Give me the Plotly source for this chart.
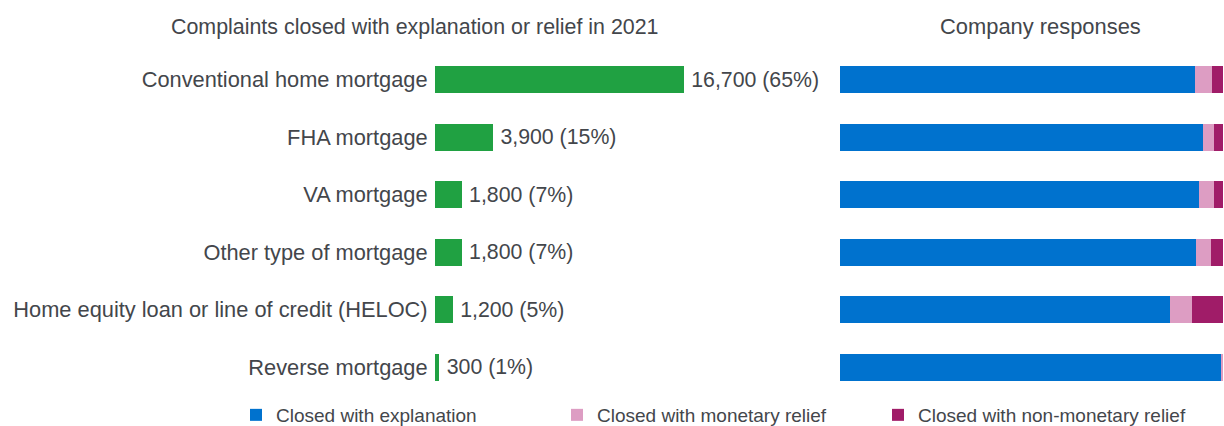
import plotly.graph_objects as go
from plotly.subplots import make_subplots

# ---- data ----
products = [
    "Conventional home mortgage",
    "FHA mortgage",
    "VA mortgage",
    "Other type of mortgage",
    "Home equity loan or line of credit (HELOC)",
    "Reverse mortgage",
]
complaints = [16700, 3900, 1800, 1800, 1200, 300]
share_pct = [65, 15, 7, 7, 5, 1]

# company responses, % of complaints for each product
explanation = [92.7, 94.8, 93.7, 93.0, 86.2, 99.4]
monetary = [4.4, 2.9, 3.9, 3.9, 5.7, 0.6]
non_monetary = [2.9, 2.3, 2.4, 3.1, 8.1, 0.0]

TEXT = "#43464b"
FONT = "Liberation Sans, Arial, sans-serif"
W, H = 1224, 426
TOP, BOTTOM = 51, 30
PLOT_H = H - TOP - BOTTOM

fig = make_subplots(rows=1, cols=2, horizontal_spacing=0.0)

# left panel: complaint counts
labels = [f"\u2009{c:,} ({p}%)" for c, p in zip(complaints, share_pct)]
fig.add_trace(
    go.Bar(
        y=products, x=complaints, orientation="h",
        marker=dict(color="#20a142", line=dict(width=0)),
        text=labels, textposition="outside", cliponaxis=False,
        textfont=dict(size=21.3, color=TEXT, family=FONT),
        showlegend=False, hoverinfo="skip",
    ),
    row=1, col=1,
)

# right panel: stacked company responses
for name, vals, col in [
    ("Closed with explanation", explanation, "#0072ce"),
    ("Closed with monetary relief", monetary, "#dd9dc3"),
    ("Closed with non-monetary relief", non_monetary, "#a01c68"),
]:
    fig.add_trace(
        go.Bar(
            y=products, x=vals, orientation="h", name=name,
            marker=dict(color=col, line=dict(width=0)),
            hoverinfo="name+x",
        ),
        row=1, col=2,
    )

fig.update_layout(
    width=W, height=H,
    barmode="stack",
    bargap=0.53,
    plot_bgcolor="white",
    paper_bgcolor="white",
    margin=dict(l=0, r=0, t=TOP, b=BOTTOM, autoexpand=False),
    font=dict(family=FONT, color=TEXT, size=22),
    legend=dict(
        orientation="h", x=236 / W, xanchor="left",
        y=-(415 - (H - BOTTOM)) / PLOT_H, yanchor="middle",
        entrywidth=276, entrywidthmode="pixels",
        font=dict(size=19, color=TEXT, family=FONT),
        traceorder="normal",
    ),
)

fig.update_xaxes(
    row=1, col=1, domain=[435 / W, 830 / W], range=[0, 26500],
    visible=False, fixedrange=True,
)
fig.update_xaxes(
    row=1, col=2, domain=[840 / W, 1223 / W], range=[0, 100],
    visible=False, fixedrange=True,
)
fig.update_yaxes(
    row=1, col=1, autorange=False, range=[5.5, -0.5],
    ticks="outside", ticklen=2, tickcolor="rgba(0,0,0,0)",
    showline=False, showgrid=False, zeroline=False,
    tickfont=dict(size=21.8, color=TEXT, family=FONT),
)
fig.update_yaxes(
    row=1, col=2, autorange=False, range=[5.5, -0.5],
    showticklabels=False, showgrid=False, zeroline=False,
)

fig.add_annotation(
    text="Complaints closed with explanation or relief in 2021",
    x=415 / W, y=1.0, xref="paper", yref="paper",
    xanchor="center", yanchor="bottom", yshift=10, showarrow=False,
    font=dict(size=21.4, color=TEXT, family=FONT),
)
fig.add_annotation(
    text="Company responses",
    x=1040 / W, y=1.0, xref="paper", yref="paper",
    xanchor="center", yanchor="bottom", yshift=10, showarrow=False,
    font=dict(size=21.9, color=TEXT, family=FONT),
)

fig.write_html(
    "out.html",
    config={"displayModeBar": False},
    post_script="document.body.style.margin='0';",
)
